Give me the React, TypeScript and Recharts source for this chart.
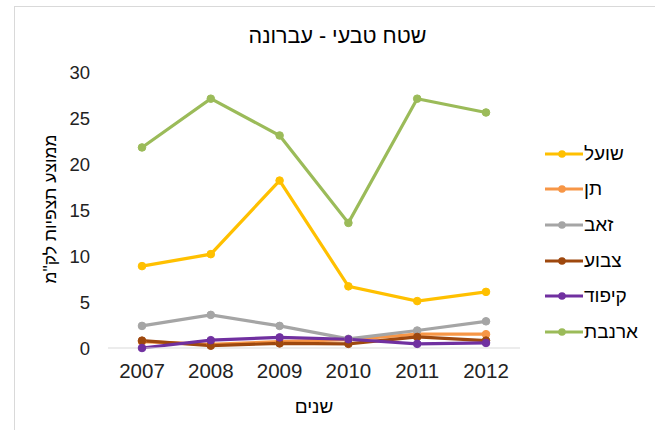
import React from 'react';
import { LineChart, Line, XAxis, YAxis, Legend } from 'recharts';

const years = ['2007', '2008', '2009', '2010', '2011', '2012'];
const fox = [8.9, 10.2, 18.2, 6.7, 5.1, 6.1];
const jackal = [0.7, 0.4, 0.7, 0.9, 1.5, 1.5];
const wolf = [2.4, 3.6, 2.4, 1.0, 1.9, 2.9];
const hyena = [0.8, 0.25, 0.5, 0.45, 1.2, 0.8];
const hedgehog = [0.0, 0.85, 1.15, 0.95, 0.45, 0.55];
const hare = [21.8, 27.1, 23.1, 13.6, 27.1, 25.6];
const yTicks = [0, 5, 10, 15, 20, 25, 30];

const series = [
  { key: 'fox', name: 'שועל', color: '#FFC000', values: fox },
  { key: 'jackal', name: 'תן', color: '#F79646', values: jackal },
  { key: 'wolf', name: 'זאב', color: '#A5A5A5', values: wolf },
  { key: 'hyena', name: 'צבוע', color: '#9E480E', values: hyena },
  { key: 'hedgehog', name: 'קיפוד', color: '#7030A0', values: hedgehog },
  { key: 'hare', name: 'ארנבת', color: '#9BBB59', values: hare },
];

const data = years.map((y, i) => {
  const row: Record<string, number | string> = { year: y };
  series.forEach((s) => {
    row[s.key] = s.values[i];
  });
  return row;
});

const hebFont = '"Liberation Sans", Arial, sans-serif';

const renderLegend = () => (
  <div style={{ display: 'flex', flexDirection: 'column' }}>
    {series.map((s) => (
      <div key={s.key} style={{ height: 35.6, display: 'flex', alignItems: 'center' }}>
        <svg width={38} height={10} style={{ display: 'block' }}>
          <line x1={0} y1={5} x2={38} y2={5} stroke={s.color} strokeWidth={3} />
          <circle cx={17} cy={5} r={3.8} fill={s.color} />
        </svg>
        <span style={{ fontFamily: hebFont, fontSize: 19, color: '#000', marginLeft: 1, direction: 'rtl' }}>
          {s.name}
        </span>
      </div>
    ))}
  </div>
);

export default function App() {
  return (
    <div style={{ position: 'absolute', left: 0, top: 0, width: 655, height: 430, background: '#fff', overflow: 'hidden' }}>
      <div
        style={{
          position: 'absolute',
          left: 14,
          top: 6,
          width: 700,
          height: 500,
          borderTop: '1px solid #D9D9D9',
          borderLeft: '1px solid #D9D9D9',
        }}
      />
      <div
        style={{
          position: 'absolute',
          left: 0,
          width: 655,
          top: 24,
          textAlign: 'center',
          fontFamily: hebFont,
          fontSize: 21.5,
          color: '#000',
          direction: 'rtl',
          paddingLeft: 20,
          boxSizing: 'border-box',
        }}
      >
        שטח טבעי - עברונה
      </div>
      <div style={{ position: 'absolute', left: 0, top: 0 }}>
        <LineChart width={655} height={430} data={data} margin={{ top: 72, right: 135, bottom: 0, left: 0 }}>
          <XAxis
            dataKey="year"
            height={82}
            padding={{ left: 34, right: 34 }}
            axisLine={{ stroke: '#D9D9D9', strokeWidth: 1 }}
            tickLine={false}
            tickSize={0}
            tickMargin={15}
            tick={{ fontFamily: hebFont, fontSize: 20.5, fill: '#222' }}
            label={{
              value: 'שנים',
              position: 'insideBottom',
              offset: 17,
              style: { fontFamily: hebFont, fontSize: 19, fill: '#000' },
            }}
          />
          <YAxis
            width={108}
            domain={[0, 30]}
            ticks={yTicks}
            axisLine={false}
            tickLine={false}
            tickSize={0}
            tickMargin={18}
            tick={{ fontFamily: hebFont, fontSize: 18.5, fill: '#222' }}
            label={{
              content: () => (
                <text
                  x={50}
                  y={209}
                  transform="rotate(-90 50 209)"
                  textAnchor="middle"
                  dominantBaseline="central"
                  style={{ fontFamily: hebFont, fontSize: 17.5, fill: '#000' }}
                >
                  ממוצע תצפיות לק"מ
                </text>
              ),
            }}
          />
          <Legend
            layout="horizontal"
            verticalAlign="middle"
            align="center"
            content={renderLegend}
            wrapperStyle={{ position: 'absolute', left: 545, top: 136, width: 110 }}
          />
          {series.map((s) => (
            <Line
              key={s.key}
              dataKey={s.key}
              name={s.name}
              stroke={s.color}
              strokeWidth={3.2}
              dot={{ r: 3.8, fill: s.color, stroke: s.color, strokeWidth: 1 }}
              activeDot={false}
              isAnimationActive={false}
            />
          ))}
        </LineChart>
      </div>
    </div>
  );
}
